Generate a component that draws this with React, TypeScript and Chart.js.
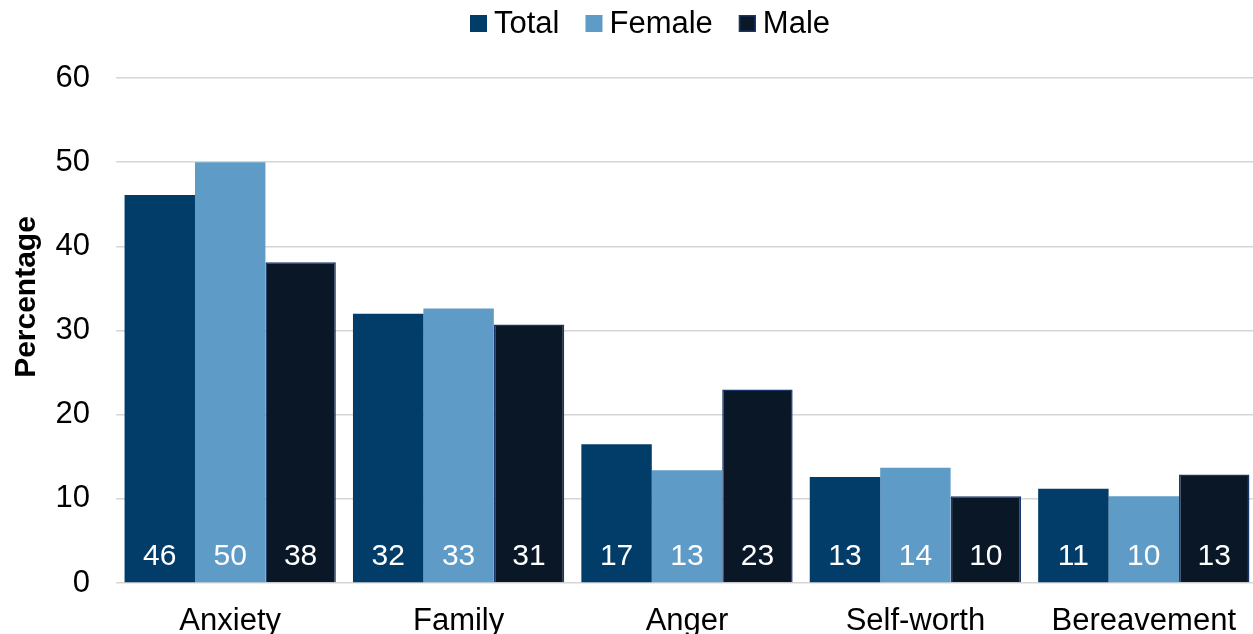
import React, { useEffect, useRef } from "react";
import { Chart, registerables } from "chart.js";

Chart.register(...registerables);

const categories = ["Anxiety", "Family", "Anger", "Self-worth", "Bereavement"];
const totalValues = [46.1, 32.0, 16.5, 12.6, 11.2];
const femaleValues = [50.0, 32.6, 13.4, 13.7, 10.3];
const maleValues = [38.1, 30.7, 23.0, 10.3, 12.9];
const seriesNames = ["Total", "Female", "Male"];
const yTicks = [0, 10, 20, 30, 40, 50, 60];

const COLORS = ["#023C69", "#5E9BC7", "#0A1727"];
const BORDERS = ["#023C69", "#5E9BC7", "#17366A"];
const FONT = "'Liberation Sans', Arial, sans-serif";

const barLabelPlugin = {
  id: "barLabels",
  afterDatasetsDraw(chart: any) {
    const ctx = chart.ctx;
    const yScale = chart.scales.y;
    const base = yScale.getPixelForValue(0);
    ctx.save();
    ctx.font = `30px ${FONT}`;
    ctx.fillStyle = "#ffffff";
    ctx.textAlign = "center";
    ctx.textBaseline = "middle";
    chart.data.datasets.forEach((ds: any, i: number) => {
      const meta = chart.getDatasetMeta(i);
      meta.data.forEach((el: any, j: number) => {
        ctx.fillText(String(Math.round(ds.data[j])), el.x, base - 26);
      });
    });
    ctx.restore();
  },
};

const legendPlugin = {
  id: "customLegend",
  afterDraw(chart: any) {
    const ctx = chart.ctx;
    ctx.save();
    ctx.font = `31px ${FONT}`;
    ctx.textBaseline = "middle";
    ctx.textAlign = "left";
    let x = 470;
    chart.data.datasets.forEach((ds: any, i: number) => {
      ctx.fillStyle = COLORS[i];
      ctx.fillRect(x, 15, 17, 17);
      if (i === 2) {
        ctx.strokeStyle = BORDERS[i];
        ctx.lineWidth = 1.5;
        ctx.strokeRect(x + 0.75, 15.75, 15.5, 15.5);
      }
      ctx.fillStyle = "#000000";
      ctx.fillText(ds.label, x + 24, 24);
      x = x + 24 + ctx.measureText(ds.label).width + 26;
    });
    ctx.restore();
  },
};

const yTitlePlugin = {
  id: "yTitle",
  afterDraw(chart: any) {
    const ctx = chart.ctx;
    ctx.save();
    ctx.translate(27, 297);
    ctx.rotate(-Math.PI / 2);
    ctx.font = `bold 30px ${FONT}`;
    ctx.fillStyle = "#000000";
    ctx.textAlign = "center";
    ctx.textBaseline = "middle";
    ctx.fillText("Percentage", 0, 0);
    ctx.restore();
  },
};

export default function App() {
  const ref = useRef<HTMLCanvasElement>(null);
  useEffect(() => {
    if (!ref.current) return;
    const values = [totalValues, femaleValues, maleValues];
    const chart = new Chart(ref.current, {
      type: "bar",
      data: {
        labels: categories,
        datasets: seriesNames.map((name, i) => ({
          label: name,
          data: values[i],
          backgroundColor: COLORS[i],
          borderColor: BORDERS[i],
          borderWidth: i === 2 ? 1.5 : 0,
          categoryPercentage: 0.925,
          barPercentage: 1.0,
        })),
      },
      options: {
        responsive: false,
        animation: false,
        devicePixelRatio: 1,
        layout: { padding: { top: 78, left: 0, right: 0, bottom: 0 } },
        plugins: {
          legend: { display: false },
          tooltip: { enabled: false },
        },
        scales: {
          x: {
            grid: { display: false, drawTicks: false },
            border: { display: false },
            ticks: {
              font: { family: FONT, size: 31 },
              color: "#000000",
              padding: 20,
            },
            afterFit(scale: any) {
              scale.height = 77;
            },
          },
          y: {
            min: 0,
            max: 60,
            afterBuildTicks(scale: any) {
              scale.ticks = yTicks.map((v) => ({ value: v }));
            },
            grid: { color: "#D6D6D6", lineWidth: 1.5, drawTicks: false },
            border: { display: false },
            ticks: {
              font: { family: FONT, size: 31 },
              color: "#000000",
              padding: 26,
            },
            afterFit(scale: any) {
              scale.width = 116;
            },
          },
        },
      },
      plugins: [barLabelPlugin, legendPlugin, yTitlePlugin],
    });
    return () => chart.destroy();
  }, []);
  return (
    <div
      style={{
        position: "fixed",
        left: 0,
        top: 0,
        width: 1253,
        height: 634,
        overflow: "hidden",
        background: "#ffffff",
      }}
    >
      <canvas ref={ref} width={1258} height={660} style={{ display: "block" }} />
    </div>
  );
}
